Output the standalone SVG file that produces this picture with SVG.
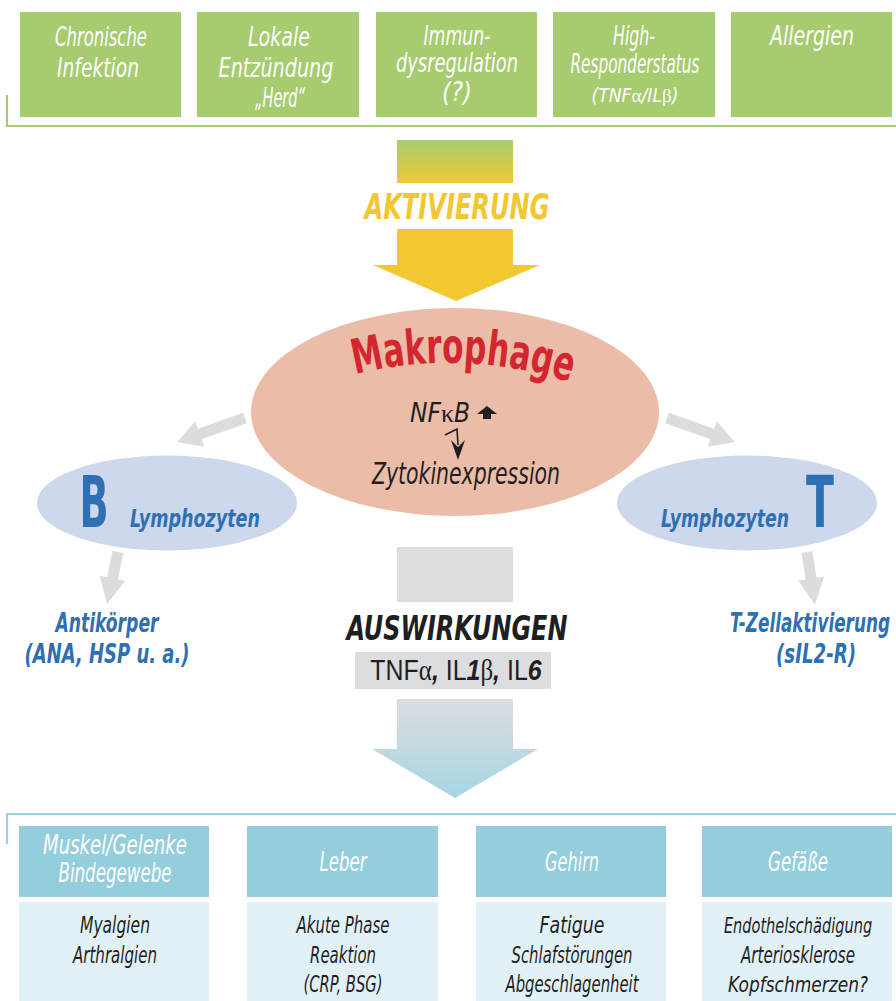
<svg xmlns="http://www.w3.org/2000/svg" width="896" height="1001" viewBox="0 0 896 1001">
<defs>
<style>
text{font-family:"Liberation Sans Narrow","DejaVu Sans Condensed","Liberation Sans",sans-serif;}
.top{fill:#ffffff;font-style:italic;font-size:27px;text-anchor:middle;}
.topbox{fill:#a7cb6f;}
.hdr{fill:#94cedd;}
.cnt{fill:#e2f1f6;}
.hdrt{fill:#ffffff;font-style:italic;font-size:26px;text-anchor:middle;}
.cntt{fill:#1f1f1f;font-style:italic;font-size:23px;text-anchor:middle;}
.blue{fill:#2f70b5;font-style:italic;font-weight:bold;text-anchor:middle;}
.gray{fill:#dcdcdc;}
.serif{font-family:"Liberation Serif",serif;font-style:normal;font-weight:normal;}
.bi{font-weight:bold;font-style:italic;}
</style>
<linearGradient id="gAkt" x1="0" y1="140" x2="0" y2="183" gradientUnits="userSpaceOnUse">
<stop offset="0" stop-color="#a8cc6e"/>
<stop offset="1" stop-color="#efc835"/>
</linearGradient>
<linearGradient id="gAus" x1="0" y1="699" x2="0" y2="798" gradientUnits="userSpaceOnUse">
<stop offset="0" stop-color="#dcdddf"/>
<stop offset="1" stop-color="#a6d6e3"/>
</linearGradient>
<path id="arcM" d="M 345,377 Q 460,345 580,385"/>
</defs>

<!-- top causes -->
<g id="causes-bracket"><path d="M7,95 V126 H896" fill="none" stroke="#a8cb6e" stroke-width="2.2"/></g>
<g id="cause-infektion">
<rect class="topbox" x="20" y="12" width="161" height="105"/>
<text class="top" x="101" y="46" textLength="92" lengthAdjust="spacingAndGlyphs">Chronische</text>
<text class="top" x="98" y="77" textLength="82" lengthAdjust="spacingAndGlyphs">Infektion</text>
</g>
<g id="cause-herd">
<rect class="topbox" x="197" y="12" width="162" height="105"/>
<text class="top" x="279" y="46" textLength="62" lengthAdjust="spacingAndGlyphs">Lokale</text>
<text class="top" x="276" y="77" textLength="115" lengthAdjust="spacingAndGlyphs">Entzündung</text>
<text class="top" x="280" y="107" textLength="50" lengthAdjust="spacingAndGlyphs">„Herd“</text>
</g>
<g id="cause-immun">
<rect class="topbox" x="376" y="12" width="161" height="105"/>
<text class="top" x="457" y="45" style="font-size:26px" textLength="67" lengthAdjust="spacingAndGlyphs">Immun-</text>
<text class="top" x="457" y="72" style="font-size:26px" textLength="122" lengthAdjust="spacingAndGlyphs">dysregulation</text>
<text class="top" x="457" y="101" style="font-size:26px" textLength="30" lengthAdjust="spacingAndGlyphs">(?)</text>
</g>
<g id="cause-highresponder">
<rect class="topbox" x="553" y="12" width="162" height="105"/>
<text class="top" x="634" y="45" textLength="42" lengthAdjust="spacingAndGlyphs">High-</text>
<text class="top" x="635" y="73" textLength="129" lengthAdjust="spacingAndGlyphs">Responderstatus</text>
<text class="top" x="635" y="102" style="font-size:19px" textLength="87" lengthAdjust="spacingAndGlyphs">(TNF<tspan class="serif">α</tspan>/IL<tspan class="serif">β</tspan>)</text>
</g>
<g id="cause-allergien">
<rect class="topbox" x="731" y="12" width="161" height="105"/>
<text class="top" x="812" y="45" textLength="84" lengthAdjust="spacingAndGlyphs">Allergien</text>
</g>

<!-- activation arrow -->
<g id="aktivierung">
<rect x="397" y="140" width="116" height="43" fill="url(#gAkt)"/>
<text x="457" y="219" fill="#f2c730" font-size="35" font-weight="bold" font-style="italic" text-anchor="middle" textLength="185" lengthAdjust="spacingAndGlyphs">AKTIVIERUNG</text>
<polygon points="397,229 513,229 513,265 540,265 456,301 373,265 397,265" fill="#f2c832"/>
</g>

<!-- connectors -->
<g id="connectors">
<polygon class="gray" transform="translate(245,418) rotate(160.6)" points="0,-5.5 48,-5.5 48,-13.5 72,0 48,13.5 48,5.5 0,5.5"/>
<polygon class="gray" transform="translate(667,418) rotate(19.4)" points="0,-5.5 48,-5.5 48,-13.5 72,0 48,13.5 48,5.5 0,5.5"/>
<polygon class="gray" transform="translate(118,552) rotate(101.9)" points="0,-5.5 27,-5.5 27,-13 53,0 27,13 27,5.5 0,5.5"/>
<polygon class="gray" transform="translate(807,552) rotate(81.3)" points="0,-5.5 27,-5.5 27,-13 53,0 27,13 27,5.5 0,5.5"/>
</g>

<!-- macrophage -->
<g id="makrophage">
<ellipse cx="455" cy="412" rx="204" ry="104" fill="#ebbca7"/>
<text fill="#d4262e" font-size="48" font-weight="bold" textLength="218" lengthAdjust="spacingAndGlyphs"><textPath href="#arcM" startOffset="50%" text-anchor="middle">Makrophage</textPath></text>
<text x="440" y="422" fill="#1f1f1f" font-size="26" font-style="italic" text-anchor="middle" textLength="60" lengthAdjust="spacingAndGlyphs">NF<tspan class="serif">κ</tspan>B</text>
<polygon points="487,406 497,414 491,414 491,419 483,419 483,414 477,414" fill="#1f1f1f"/>
<path d="M445,435 L457,429 L458,445" fill="none" stroke="#1f1f1f" stroke-width="1.6"/>
<polygon points="451,440 458,447 465,440 458,460" fill="#1f1f1f"/>
<text x="466" y="484" fill="#1f1f1f" font-size="30" font-style="italic" text-anchor="middle" textLength="188" lengthAdjust="spacingAndGlyphs">Zytokinexpression</text>
</g>

<!-- B lymphocytes -->
<g id="b-lymphozyten">
<ellipse cx="167" cy="503" rx="130" ry="47.5" fill="#cdd8ec"/>
<text x="94" y="527" fill="#2f70b5" font-size="72" font-weight="bold" text-anchor="middle" textLength="29" lengthAdjust="spacingAndGlyphs">B</text>
<text class="blue" x="195" y="527" font-size="24" textLength="130" lengthAdjust="spacingAndGlyphs">Lymphozyten</text>
</g>
<g id="antikoerper">
<text class="blue" x="107" y="632" font-size="27" textLength="103" lengthAdjust="spacingAndGlyphs">Antikörper</text>
<text class="blue" x="107" y="663" font-size="27" textLength="165" lengthAdjust="spacingAndGlyphs">(ANA, HSP u. a.)</text>
</g>

<!-- T lymphocytes -->
<g id="t-lymphozyten">
<ellipse cx="747" cy="503" rx="130" ry="47.5" fill="#cdd8ec"/>
<text class="blue" transform="translate(725,527) scale(0.81,1)" x="0" y="0" font-size="24" textLength="158" lengthAdjust="spacingAndGlyphs">Lymphozyten</text>
<text transform="translate(820,527) scale(0.65,1)" x="0" y="0" fill="#2f70b5" font-size="72" font-weight="bold" text-anchor="middle" textLength="43" lengthAdjust="spacingAndGlyphs">T</text>
</g>
<g id="t-zellaktivierung">
<text transform="translate(730,632) scale(0.63,1)" x="0" y="0" fill="#2f70b5" font-size="27" font-weight="bold" font-style="italic" textLength="254" lengthAdjust="spacingAndGlyphs">T-Zellaktivierung</text>
<text class="blue" x="816" y="663" font-size="27" textLength="80" lengthAdjust="spacingAndGlyphs">(sIL2-R)</text>
</g>

<!-- effects arrow -->
<g id="auswirkungen">
<rect x="397" y="547" width="116" height="55" fill="#dcdddf"/>
<text x="457" y="640" fill="#1f1f1f" font-size="34" font-weight="bold" font-style="italic" text-anchor="middle" textLength="221" lengthAdjust="spacingAndGlyphs">AUSWIRKUNGEN</text>
<rect x="355" y="652" width="196" height="37" fill="#dcdddf"/>
<text transform="translate(456,680) scale(0.86,1)" fill="#1f1f1f" font-size="29" text-anchor="middle" style="font-family:'Liberation Sans',sans-serif">TNF<tspan class="serif">α</tspan><tspan class="bi">, </tspan>IL<tspan class="bi">1</tspan><tspan class="serif">β</tspan><tspan class="bi">, </tspan>IL<tspan class="bi">6</tspan></text>
<polygon points="397,699 513,699 513,749 538,749 455,798 372,749 397,749" fill="url(#gAus)"/>
</g>

<!-- organ effects -->
<g id="effects-bracket"><path d="M7,844 V814 H896" fill="none" stroke="#9ad1df" stroke-width="2.2"/></g>
<g id="organ-muskel">
<rect class="hdr" x="19" y="826" width="190" height="71"/>
<rect class="cnt" x="19" y="902" width="190" height="99"/>
<text class="hdrt" x="115" y="854" textLength="144" lengthAdjust="spacingAndGlyphs">Muskel/Gelenke</text>
<text class="hdrt" x="115" y="882" textLength="113" lengthAdjust="spacingAndGlyphs">Bindegewebe</text>
<text class="cntt" x="115" y="933" textLength="70" lengthAdjust="spacingAndGlyphs">Myalgien</text>
<text class="cntt" x="115" y="963" textLength="84" lengthAdjust="spacingAndGlyphs">Arthralgien</text>
</g>
<g id="organ-leber">
<rect class="hdr" x="247" y="826" width="191" height="71"/>
<rect class="cnt" x="247" y="902" width="191" height="99"/>
<text class="hdrt" x="343" y="871" textLength="47" lengthAdjust="spacingAndGlyphs">Leber</text>
<text class="cntt" x="343" y="933" textLength="93" lengthAdjust="spacingAndGlyphs">Akute Phase</text>
<text class="cntt" x="343" y="963" textLength="66" lengthAdjust="spacingAndGlyphs">Reaktion</text>
<text class="cntt" x="343" y="992" textLength="79" lengthAdjust="spacingAndGlyphs">(CRP, BSG)</text>
</g>
<g id="organ-gehirn">
<rect class="hdr" x="476" y="826" width="190" height="71"/>
<rect class="cnt" x="476" y="902" width="190" height="99"/>
<text class="hdrt" x="572" y="871" textLength="54" lengthAdjust="spacingAndGlyphs">Gehirn</text>
<text class="cntt" x="572" y="933" textLength="65" lengthAdjust="spacingAndGlyphs">Fatigue</text>
<text class="cntt" x="572" y="963" textLength="121" lengthAdjust="spacingAndGlyphs">Schlafstörungen</text>
<text class="cntt" x="572" y="992" textLength="133" lengthAdjust="spacingAndGlyphs">Abgeschlagenheit</text>
</g>
<g id="organ-gefaesse">
<rect class="hdr" x="702" y="826" width="190" height="71"/>
<rect class="cnt" x="702" y="902" width="190" height="99"/>
<text class="hdrt" x="798" y="871" textLength="60" lengthAdjust="spacingAndGlyphs">Gefäße</text>
<text class="cntt" transform="translate(798,933) scale(0.68,1)" x="0" y="0" style="font-size:22px" textLength="218" lengthAdjust="spacingAndGlyphs">Endothelschädigung</text>
<text class="cntt" x="798" y="963" textLength="114" lengthAdjust="spacingAndGlyphs">Arteriosklerose</text>
<text class="cntt" x="798" y="992" style="font-size:22px" textLength="140" lengthAdjust="spacingAndGlyphs">Kopfschmerzen?</text>
</g>
</svg>
